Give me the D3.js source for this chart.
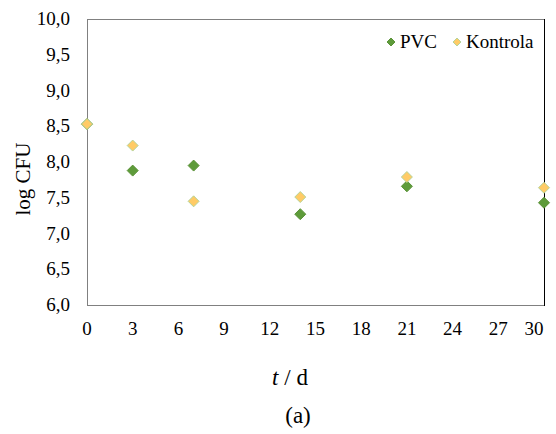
<!DOCTYPE html>
<html><head><meta charset="utf-8">
<script src="https://cdn.jsdelivr.net/npm/d3@7"></script>
<style>body{margin:0;background:#fff}</style>
</head><body><svg id="c" width="556" height="434"><style>text{font-family:"Liberation Serif";}</style></svg>
<script>
const days = [0, 3, 7, 14, 21, 30];
const pvc = [8.53, 7.88, 7.95, 7.27, 7.66, 7.43];
const kontrola = [8.53, 8.23, 7.45, 7.51, 7.79, 7.64];
const xTicks = [0, 3, 6, 9, 12, 15, 18, 21, 24, 27, 30];
const yTicks = [6, 6.5, 7, 7.5, 8, 8.5, 9, 9.5, 10];
const seriesNames = ["PVC", "Kontrola"];

const svg = d3.select("#c");
const L = 87, R = 544, T = 19, B = 305;
const x = d3.scaleLinear().domain([0, 30]).range([L, R]);
const y = d3.scaleLinear().domain([6, 10]).range([B, T]);
const fmt = d => d3.format(".1f")(d).replace(".", ",");

function label(px, py, size, anchor, txt) {
  const t = svg.append("text").attr("x", px).attr("y", py)
    .style("font-family", `"Liberation Serif"`).style("font-size", size + "px")
    .attr("text-anchor", anchor);
  if (txt !== null) t.text(txt);
  return t;
}

// frame
svg.append("rect").attr("x", L).attr("y", T).attr("width", R - L).attr("height", B - T)
  .attr("fill", "none").attr("stroke", "#000").attr("stroke-width", 1).attr("shape-rendering", "crispEdges");
[[L, T, L, B], [L, B, R, B], [L, T, R, T]].forEach(c =>
  svg.append("line").attr("x1", c[0]).attr("y1", c[1]).attr("x2", c[2]).attr("y2", c[3])
    .attr("stroke", "#808080").attr("shape-rendering", "crispEdges"));

// y tick labels
yTicks.forEach(v => label(L - 17, y(v) + 6, 19, "end", fmt(v)));

// x tick labels
xTicks.forEach(v => label(x(v) - (v === 30 ? 10 : 0), B + 30, 19, "middle", String(v)));

// titles
label(0, 0, 21, "middle", "log CFU").attr("transform", "translate(30,179) rotate(-90)");
const tt = label(290, 385, 23, "middle", null);
tt.append("tspan").style("font-style", "italic").text("t");
tt.append("tspan").text(" / d");
label(298, 423, 23, "middle", "(a)");

// markers
const diamond = (s) => `M0,${-s}L${s},0L0,${s}L${-s},0Z`;
const styles = [
  {fill: "#5E9B3A", stroke: "#5A9237"},
  {fill: "#FFCB66", stroke: "#B5D49A"}
];
[pvc, kontrola].forEach((vals, i) => {
  svg.append("g").selectAll("path").data(days.map((d, j) => [d, vals[j]])).join("path")
    .attr("transform", d => `translate(${x(d[0])},${y(d[1])})`)
    .attr("d", diamond(5.5)).attr("fill", styles[i].fill).attr("stroke", styles[i].stroke).attr("stroke-width", 1);
});

// legend
const lx = [391, 457];
seriesNames.forEach((n, i) => {
  svg.append("path").attr("transform", `translate(${lx[i]},42)`).attr("d", diamond(4))
    .attr("fill", styles[i].fill).attr("stroke", styles[i].stroke);
  label(lx[i] + 9, 48, 19, "start", n);
});
</script></body></html>
